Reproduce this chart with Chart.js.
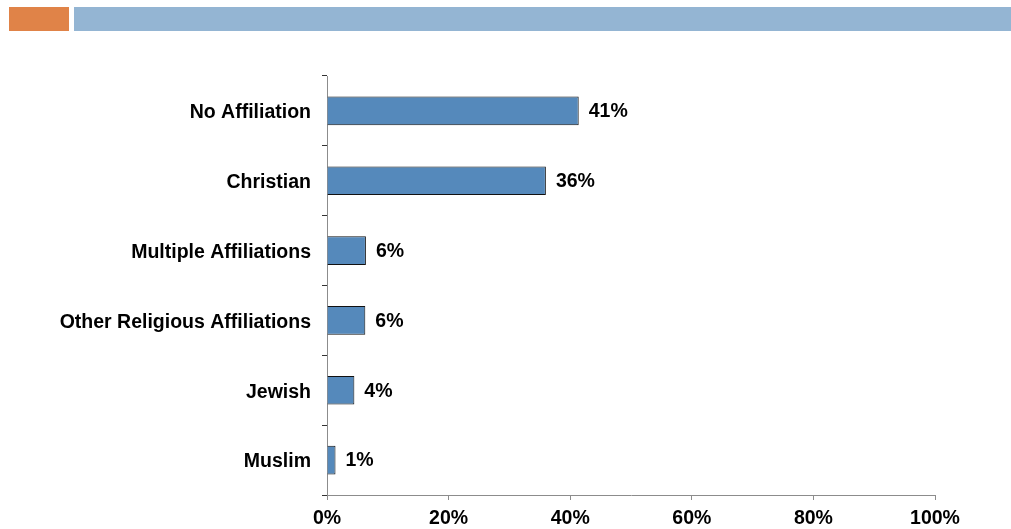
<!DOCTYPE html>
<html>
<head>
<meta charset="utf-8">
<script src="https://cdn.jsdelivr.net/npm/chart.js@4/dist/chart.umd.min.js"></script>
<style>
  html, body { margin: 0; padding: 0; background: #fff; }
  #wrap { position: relative; width: 1011px; height: 529px; overflow: hidden; }
  .bar-top { position: absolute; top: 7px; height: 24px; }
  #orange { left: 9px; width: 60px; background: #e08348; }
  #blue { left: 74px; width: 937px; background: #94b5d3; }
  #chartBox { position: absolute; left: 0; top: 0; width: 1011px; height: 529px; }
</style>
</head>
<body>
<div id="wrap">
  <div id="orange" class="bar-top"></div>
  <div id="blue" class="bar-top"></div>
  <div id="chartBox"><canvas id="chart"></canvas></div>
</div>
<script>
const categories = ["No Affiliation", "Christian", "Multiple Affiliations", "Other Religious Affiliations", "Jewish", "Muslim"];
const shares = [41.4, 36.0, 6.4, 6.3, 4.5, 1.4];
const shareLabels = ["41%", "36%", "6%", "6%", "4%", "1%"];
const xTicks = [0, 20, 40, 60, 80, 100];

const FONT = "'Liberation Sans', Arial, sans-serif";

const valueLabels = {
  id: "valueLabels",
  afterDatasetsDraw(chart) {
    const ctx = chart.ctx;
    const meta = chart.getDatasetMeta(0);
    ctx.save();
    ctx.font = "bold 19.5px " + FONT;
    ctx.fillStyle = "#000";
    ctx.textAlign = "left";
    ctx.textBaseline = "middle";
    meta.data.forEach((bar, i) => {
      ctx.fillText(shareLabels[i], bar.x + 10, bar.y + 1);
    });
    ctx.restore();
  }
};

new Chart(document.getElementById("chart"), {
  type: "bar",
  data: {
    labels: categories,
    datasets: [{
      data: shares,
      backgroundColor: "#5589bb",
      borderColor: "#111",
      borderWidth: 1,
      barPercentage: 0.41,
      categoryPercentage: 1
    }]
  },
  options: {
    indexAxis: "y",
    responsive: true,
    maintainAspectRatio: false,
    animation: false,
    layout: { padding: { top: 76, right: 76, bottom: 0, left: 0 } },
    plugins: { legend: { display: false }, tooltip: { enabled: false } },
    scales: {
      x: {
        min: 0,
        max: 100,
        afterBuildTicks: (scale) => { scale.ticks = xTicks.map(v => ({ value: v })); },
        afterFit: (scale) => { scale.height = 34; },
        border: { color: "#8c8c8c", width: 1 },
        grid: { drawOnChartArea: false, color: "#8c8c8c", tickLength: 5 },
        ticks: {
          color: "#000",
          padding: 7,
          maxRotation: 0,
          font: { family: FONT, size: 19.5, weight: "bold" },
          callback: (v) => v + "%"
        }
      },
      y: {
        afterFit: (scale) => { scale.width = 327; },
        border: { color: "#8c8c8c", width: 1 },
        grid: { drawOnChartArea: false, color: "#333", tickLength: 5, offset: true },
        ticks: {
          color: "#000",
          padding: 11,
          labelOffset: 2,
          font: { family: FONT, size: 19.5, weight: "bold" }
        }
      }
    }
  },
  plugins: [valueLabels]
});
</script>
</body>
</html>
